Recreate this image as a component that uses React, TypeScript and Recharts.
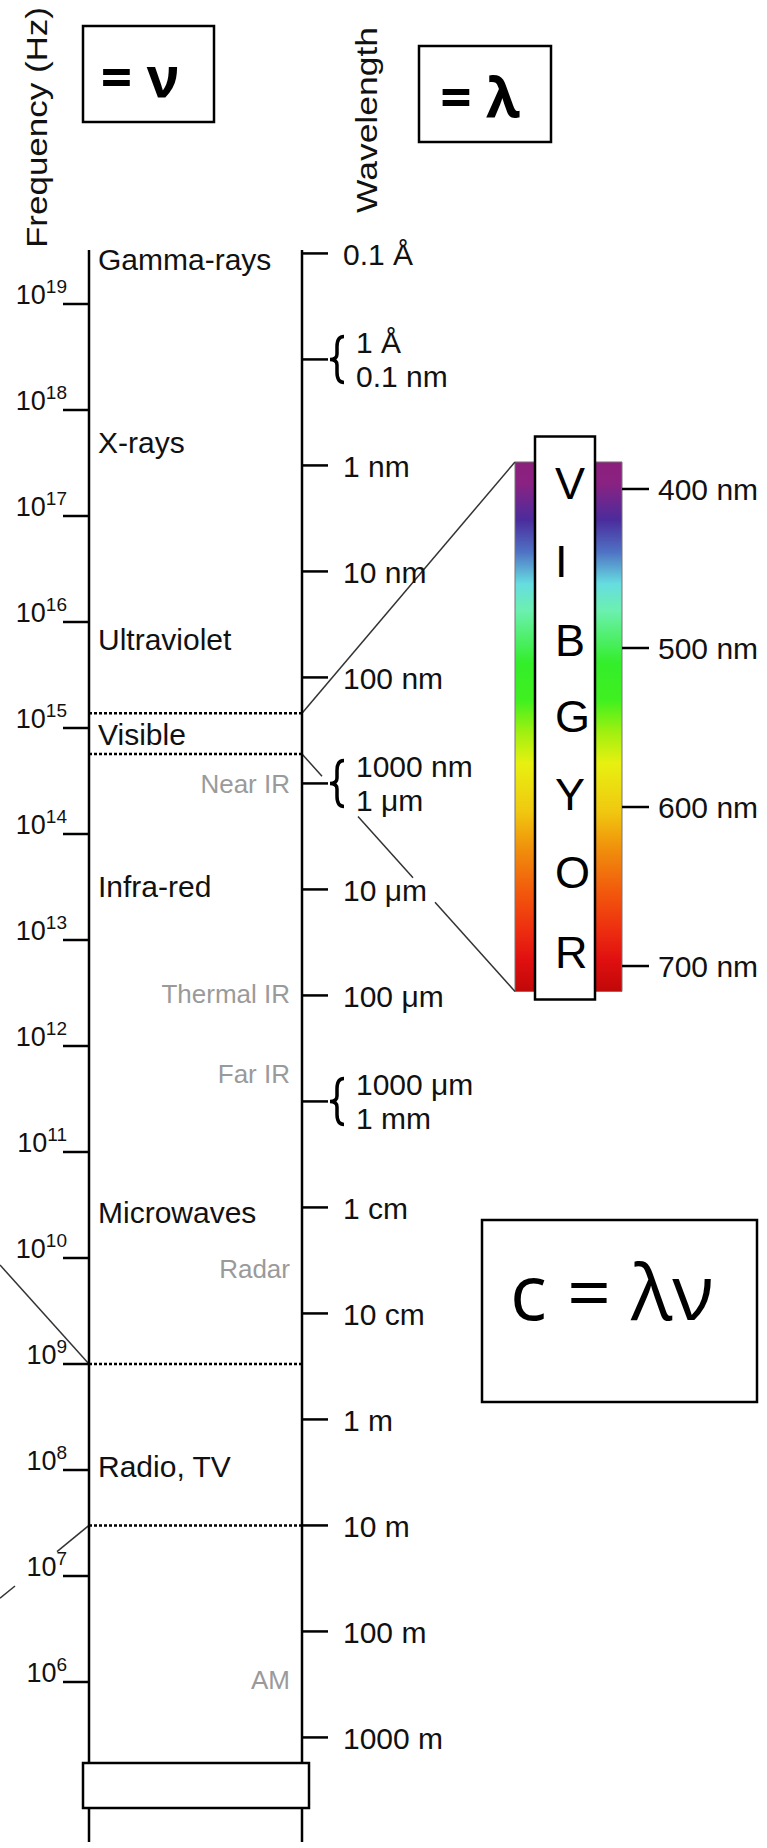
import React from 'react';
import { ComposedChart, XAxis, YAxis, Scatter, ReferenceDot, ReferenceLine, ReferenceArea } from 'recharts';

// speed of light, used to put wavelength ticks on the frequency scale
const C = 3e8;

const FREQ_EXPONENTS = [6, 7, 8, 9, 10, 11, 12, 13, 14, 15, 16, 17, 18, 19];

const WAVELENGTHS_M = [1e-11, 1e-10, 1e-9, 1e-8, 1e-7, 1e-6, 1e-5, 1e-4, 1e-3, 1e-2, 1e-1, 1, 10, 100, 1000];
const WAVELENGTH_LABELS = [
  ['0.1 Å'],
  ['1 Å', '0.1 nm'],
  ['1 nm'],
  ['10 nm'],
  ['100 nm'],
  ['1000 nm', '1 μm'],
  ['10 μm'],
  ['100 μm'],
  ['1000 μm', '1 mm'],
  ['1 cm'],
  ['10 cm'],
  ['1 m'],
  ['10 m'],
  ['100 m'],
  ['1000 m'],
];

// band names and where they sit on the log10(frequency) scale
const BAND_NAMES = ['Gamma-rays', 'X-rays', 'Ultraviolet', 'Visible', 'Infra-red', 'Microwaves', 'Radio, TV'];
const BAND_EXP = [19.32, 17.59, 15.74, 14.84, 13.41, 10.33, 7.93];
const SUB_BAND_NAMES = ['Near IR', 'Thermal IR', 'Far IR', 'Radar', 'AM'];
const SUB_BAND_EXP = [14.39, 12.41, 11.65, 9.81, 5.93];

// dotted boundaries (log10 Hz)
const VISIBLE_EXP = [15.14, 14.755];
const BOUNDARY_EXP = [9, 7.477];

// visible spectrum strip, in nm
const SPECTRUM_NM = [383, 716];
const SPECTRUM_TICKS = [400, 500, 600, 700];
const SPECTRUM_LETTERS = ['V', 'I', 'B', 'G', 'Y', 'O', 'R'];
const SPECTRUM_LETTER_NM = [396, 445, 495, 543, 592, 641, 691];
const LETTER_BOX_NM = [367, 721];

const GRADIENT = [
  [0, '#8c1f7c'], [0.04, '#8a2282'], [0.11, '#4b2c9c'], [0.17, '#4f72c4'], [0.23, '#66dde0'],
  [0.28, '#6cf0b0'], [0.38, '#33ee2a'], [0.45, '#40f020'], [0.51, '#a0f010'], [0.57, '#e8f010'],
  [0.66, '#f0c810'], [0.73, '#f0900c'], [0.81, '#f25a0c'], [0.88, '#ee3010'], [0.94, '#e01010'], [1, '#c00808'],
];

// layout
const W = 767;
const H = 1848;
const TOP = 250;
const BOTTOM = 6;
const FREQ_DOMAIN = [4.4906, 19.5094];
const NM_DOMAIN = [249.7, 1250.9];
const LEFT_AXIS_X = 89;
const RIGHT_AXIS_X = 302;
const BAR_X = [515, 622];
const BOX_X = [535, 595];
const BAND_X = 98;
const SUB_BAND_X = 290;
const LETTER_X = 555;
const TEXT = '#111';
const GRAY = '#9a9a9a';

const wlValues = WAVELENGTHS_M.map((l) => Math.log10(C / l));
const nmAtFreq = (v: number) =>
  NM_DOMAIN[0] + ((FREQ_DOMAIN[1] - v) / (FREQ_DOMAIN[1] - FREQ_DOMAIN[0])) * (NM_DOMAIN[1] - NM_DOMAIN[0]);

const bandData = BAND_NAMES.map((name, i) => ({ x: BAND_X, v: BAND_EXP[i], name }));
const subBandData = SUB_BAND_NAMES.map((name, i) => ({ x: SUB_BAND_X, v: SUB_BAND_EXP[i], name }));

const bracePath = (x: number, y: number, h: number) => {
  const w = 14;
  const t = y - h / 2;
  const b = y + h / 2;
  const m = x + w * 0.5;
  return `M${x + w},${t} Q${m},${t} ${m},${t + h * 0.22} L${m},${y - h * 0.12} Q${m},${y} ${x},${y} Q${m},${y} ${m},${y + h * 0.12} L${m},${b - h * 0.22} Q${m},${b} ${x + w},${b}`;
};

const FreqTick = (props: any) => {
  const { x, y, payload } = props;
  return (
    <text x={x + 4} y={y} textAnchor="end" fill={TEXT}>
      <tspan fontSize={27}>10</tspan>
      <tspan fontSize={19} dy={-11}>{payload.value}</tspan>
    </text>
  );
};

const WlTick = (props: any) => {
  const { x, y, payload } = props;
  const i = wlValues.findIndex((v) => Math.abs(v - payload.value) < 1e-6);
  const lines = WAVELENGTH_LABELS[i] || [];
  if (lines.length === 1) {
    return (
      <text x={x + 15} y={y + 12} fontSize={30} fill={TEXT}>
        {lines[0]}
      </text>
    );
  }
  return (
    <g>
      <path d={bracePath(x + 2, y, 46)} fill="none" stroke="#000" strokeWidth={3.5} />
      <text x={x + 28} y={y - 6} fontSize={30} fill={TEXT}>{lines[0]}</text>
      <text x={x + 28} y={y + 28} fontSize={30} fill={TEXT}>{lines[1]}</text>
    </g>
  );
};

const NmTick = (props: any) => {
  const { x, y, payload } = props;
  return (
    <text x={x + 9} y={y + 11} fontSize={30} fill={TEXT}>
      {payload.value} nm
    </text>
  );
};

const BandLabel = (props: any) => (
  <text x={props.cx} y={props.cy} fontSize={30} fill={TEXT}>
    {props.payload.name}
  </text>
);

const SubBandLabel = (props: any) => (
  <text x={props.cx} y={props.cy} fontSize={26} fill={GRAY} textAnchor="end">
    {props.payload.name}
  </text>
);

const axisStroke = { stroke: '#000', strokeWidth: 2.5 };

export default function App() {
  const visTopNm = nmAtFreq(VISIBLE_EXP[0]);
  const visBotNm = nmAtFreq(VISIBLE_EXP[1]);
  // lower connector is broken where it crosses the labels
  const lowerAt = (x: number) =>
    visBotNm + ((x - RIGHT_AXIS_X) / (BAR_X[0] - RIGHT_AXIS_X)) * (SPECTRUM_NM[1] - visBotNm);
  const lowerPieces = [
    [RIGHT_AXIS_X, 322],
    [358, 413],
    [435, BAR_X[0]],
  ];
  const leftLow = (x: number) => BOUNDARY_EXP[1] + ((LEFT_AXIS_X - x) / LEFT_AXIS_X) * (6.79 - BOUNDARY_EXP[1]);

  return (
    <div style={{ position: 'relative', width: W, height: H, background: '#fff', fontFamily: '"Liberation Sans", Arial, sans-serif' }}>
      <style>{'body{margin:0}'}</style>
      <svg width={W} height={H} style={{ position: 'absolute', left: 0, top: 0, pointerEvents: 'none' }}>
        <defs>
          <linearGradient id="spectrum" x1="0" y1="0" x2="0" y2="1">
            {GRADIENT.map(([o, c]) => (
              <stop key={String(o)} offset={o as number} stopColor={c as string} />
            ))}
          </linearGradient>
        </defs>
      </svg>
      <div style={{ position: 'absolute', left: 0, top: 0 }}>
        <ComposedChart width={W} height={H} margin={{ top: TOP, right: 0, bottom: BOTTOM, left: 0 }}>
          <XAxis xAxisId="x" type="number" dataKey="x" domain={[LEFT_AXIS_X, RIGHT_AXIS_X]} hide />
          <YAxis
            yAxisId="a_freq"
            orientation="left"
            type="number"
            width={LEFT_AXIS_X}
            domain={FREQ_DOMAIN}
            ticks={FREQ_EXPONENTS}
            interval={0}
            tick={FreqTick}
            tickSize={26}
            tickMargin={0}
            tickLine={axisStroke}
            axisLine={axisStroke}
          />
          <YAxis
            yAxisId="b_wl"
            orientation="right"
            type="number"
            width={BAR_X[1] - RIGHT_AXIS_X}
            domain={FREQ_DOMAIN}
            allowDataOverflow
            ticks={wlValues}
            interval={0}
            tick={WlTick}
            tickSize={26}
            tickMargin={0}
            tickLine={axisStroke}
            axisLine={axisStroke}
          />
          <YAxis
            yAxisId="c_nm"
            orientation="right"
            type="number"
            width={W - BAR_X[1]}
            domain={NM_DOMAIN}
            allowDataOverflow
            reversed
            ticks={SPECTRUM_TICKS}
            interval={0}
            tick={NmTick}
            tickSize={27}
            tickMargin={0}
            tickLine={axisStroke}
            axisLine={false}
          />

          <ReferenceArea
            xAxisId="x"
            yAxisId="c_nm"
            x1={BAR_X[0]}
            x2={BAR_X[1]}
            y1={SPECTRUM_NM[0]}
            y2={SPECTRUM_NM[1]}
            fill="url(#spectrum)"
            fillOpacity={1}
            stroke="#777"
            strokeWidth={1}
            ifOverflow="visible"
          />
          <ReferenceArea
            xAxisId="x"
            yAxisId="c_nm"
            x1={BOX_X[0]}
            x2={BOX_X[1]}
            y1={LETTER_BOX_NM[0]}
            y2={LETTER_BOX_NM[1]}
            fill="#fff"
            fillOpacity={1}
            stroke="#000"
            strokeWidth={2.5}
            ifOverflow="visible"
          />

          {[...VISIBLE_EXP, ...BOUNDARY_EXP].map((v) => (
            <ReferenceLine key={v} xAxisId="x" yAxisId="a_freq" y={v} stroke="#000" strokeWidth={2.5} strokeDasharray="3 2" />
          ))}

          <ReferenceLine
            xAxisId="x"
            yAxisId="c_nm"
            segment={[{ x: RIGHT_AXIS_X, y: visTopNm }, { x: BAR_X[0], y: SPECTRUM_NM[0] }]}
            stroke="#333"
            strokeWidth={1.5}
            ifOverflow="visible"
          />
          {lowerPieces.map(([a, b]) => (
            <ReferenceLine
              key={a}
              xAxisId="x"
              yAxisId="c_nm"
              segment={[{ x: a, y: lowerAt(a) }, { x: b, y: lowerAt(b) }]}
              stroke="#333"
              strokeWidth={1.5}
              ifOverflow="visible"
            />
          ))}
          <ReferenceLine
            xAxisId="x"
            yAxisId="a_freq"
            segment={[{ x: LEFT_AXIS_X, y: BOUNDARY_EXP[0] }, { x: 0, y: 9.934 }]}
            stroke="#333"
            strokeWidth={1.5}
            ifOverflow="visible"
          />
          {[[LEFT_AXIS_X, 57], [15, 0]].map(([a, b]) => (
            <ReferenceLine
              key={a}
              xAxisId="x"
              yAxisId="a_freq"
              segment={[{ x: a, y: leftLow(a) }, { x: b, y: leftLow(b) }]}
              stroke="#333"
              strokeWidth={1.5}
              ifOverflow="visible"
            />
          ))}

          {SPECTRUM_LETTERS.map((name, i) => (
            <ReferenceDot
              key={name}
              xAxisId="x"
              yAxisId="c_nm"
              x={LETTER_X}
              y={SPECTRUM_LETTER_NM[i]}
              ifOverflow="visible"
              shape={(p: any) => (
                <text x={p.cx} y={p.cy + 16} fontSize={45} fill="#000">
                  {name}
                </text>
              )}
            />
          ))}

          <Scatter xAxisId="x" yAxisId="a_freq" data={bandData} dataKey="v" shape={BandLabel} isAnimationActive={false} />
          <Scatter xAxisId="x" yAxisId="a_freq" data={subBandData} dataKey="v" shape={SubBandLabel} isAnimationActive={false} />
        </ComposedChart>
      </div>
      <svg width={W} height={H} style={{ position: 'absolute', left: 0, top: 0, pointerEvents: 'none' }}>
        <text transform="translate(47,248) rotate(-90)" fontSize={30} fill={TEXT} textLength={241} lengthAdjust="spacingAndGlyphs">
          Frequency (Hz)
        </text>
        <text transform="translate(377,213) rotate(-90)" fontSize={30} fill={TEXT} textLength={186} lengthAdjust="spacingAndGlyphs">
          Wavelength
        </text>
        <rect x={83} y={26} width={131} height={96} fill="#fff" stroke="#000" strokeWidth={2.5} />
        <text x={140} y={97} textAnchor="middle" fontSize={55} fontWeight="bold" fontFamily="'Open Sans', sans-serif" fill="#000">
          = ν
        </text>
        <rect x={419} y={46} width={132} height={96} fill="#fff" stroke="#000" strokeWidth={2.5} />
        <text x={480} y={117} textAnchor="middle" fontSize={55} fontWeight="bold" fontFamily="'Open Sans', sans-serif" fill="#000">
          = λ
        </text>
        <rect x={482} y={1220} width={275} height={182} fill="#fff" stroke="#000" strokeWidth={2.5} />
        <text x={612} y={1320} textAnchor="middle" fontSize={77} fontFamily="'Open Sans', sans-serif" fill="#000">
          c = λν
        </text>
        <rect x={83} y={1763} width={226} height={45} fill="#fff" stroke="#000" strokeWidth={2.5} />
      </svg>
    </div>
  );
}
